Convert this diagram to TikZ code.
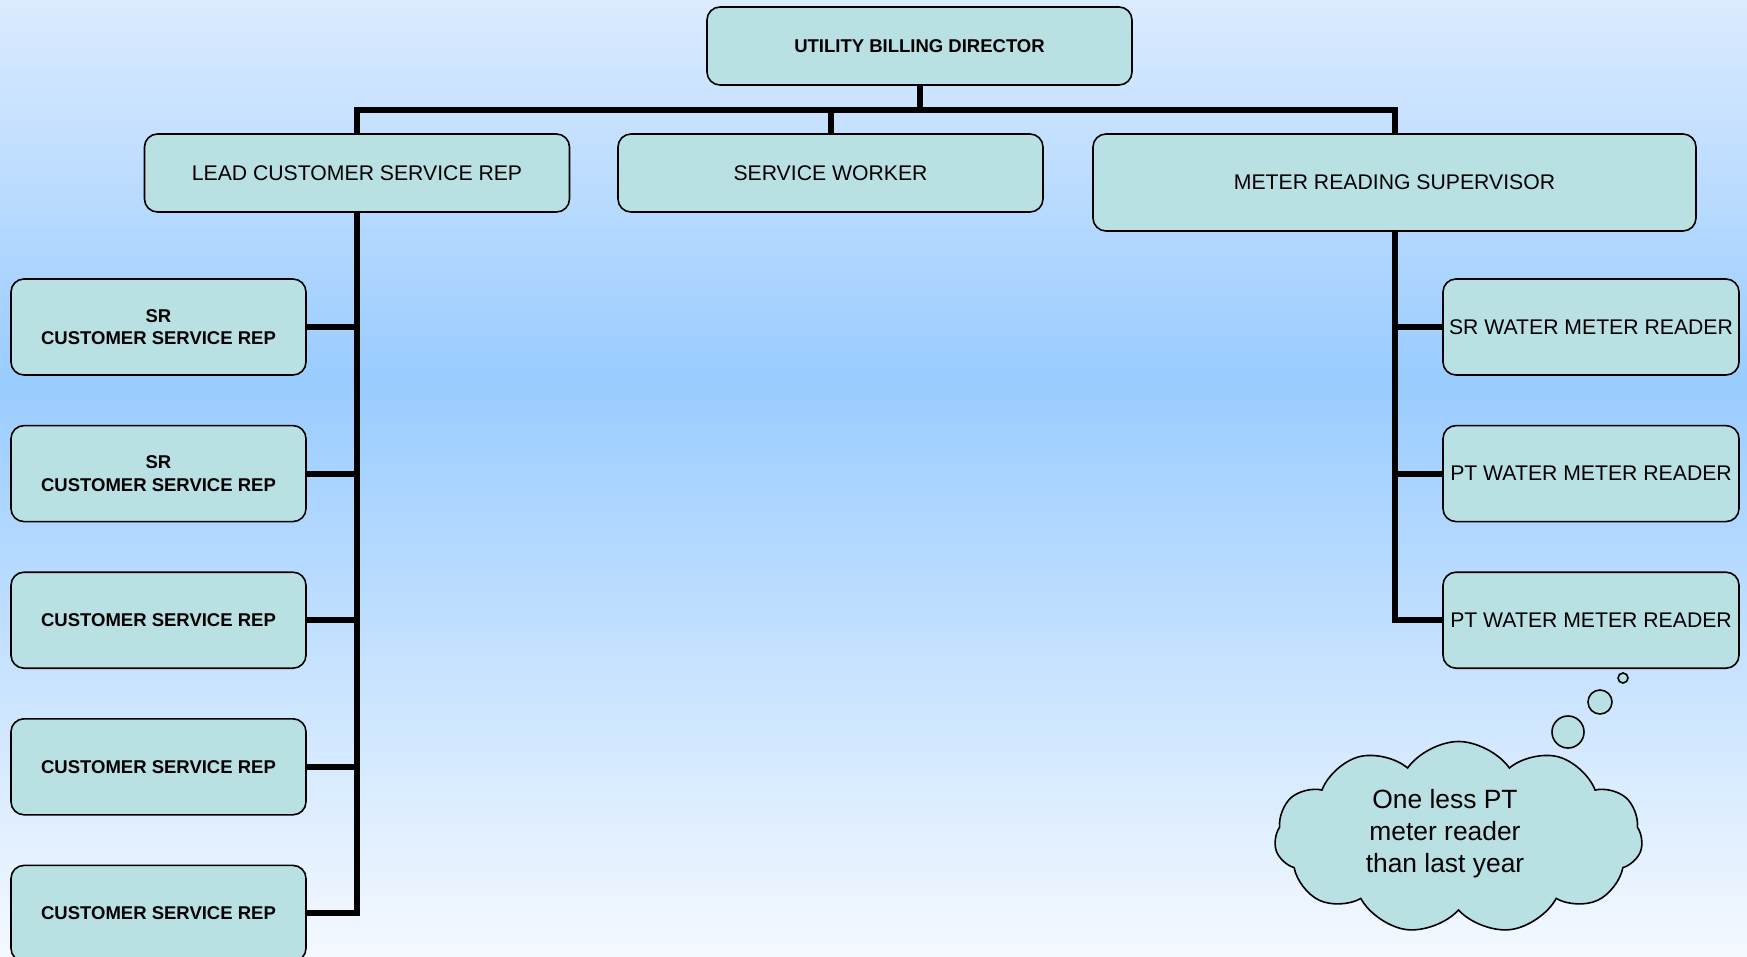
\documentclass[tikz,border=0pt]{standalone}
\usepackage{fontspec}
\setmainfont{Liberation Sans}
\usetikzlibrary{positioning, calc, shapes.symbols}
\definecolor{boxfill}{HTML}{B9E0E3}
\definecolor{bgtop}{HTML}{DCEBFF}
\definecolor{bgmid}{HTML}{99CCFF}
\definecolor{bgbot}{HTML}{F5F9FF}

\begin{document}
\begin{tikzpicture}[
			x=1pt, y=1pt,
			node distance=24.5pt,
			every node/.style={align=center},
			box/.style={rectangle, draw=black, line width=0.8pt, fill=boxfill, rounded corners=6.5pt, inner sep=0pt, font=\fontsize{10.6}{12.7}\selectfont},
			headbox/.style={box, minimum width=212.5pt, minimum height=39pt, font=\fontsize{9.25}{11.3}\selectfont\bfseries},
			midbox/.style={box, minimum width=212.5pt, minimum height=39pt},
			csrbox/.style={box, minimum width=147.5pt, minimum height=48pt, font=\fontsize{9.25}{11.3}\selectfont\bfseries},
			readerbox/.style={box, minimum width=148pt, minimum height=48pt},
			link/.style={line width=3pt},
			bubble/.style={circle, draw=black, line width=0.8pt, fill=boxfill, inner sep=0pt}
			]
			% Background
			\useasboundingbox (0,0) rectangle (873.5,-478.5);
			\shade[top color=bgtop, bottom color=bgmid] (0,0) rectangle (873.5,-190);
			\shade[top color=bgmid, bottom color=bgbot] (0,-190) rectangle (873.5,-478.5);
			
			% Nodes
			\node[headbox] (director) at (459.75,-23) {UTILITY BILLING DIRECTOR};
			\node[midbox] (lead) at (178.5,-86.5) {LEAD CUSTOMER SERVICE REP};
			\node[midbox] (worker) at (415.25,-86.5) {SERVICE WORKER};
			\node[box, minimum width=301.5pt, minimum height=48.5pt] (super) at (697.25,-91.25) {METER READING SUPERVISOR};
			
			\node[csrbox] (csr1) at (79.25,-163.5) {SR\\CUSTOMER SERVICE REP};
			\node[csrbox, below=of csr1] (csr2) {SR\\CUSTOMER SERVICE REP};
			\node[csrbox, below=of csr2] (csr3) {CUSTOMER SERVICE REP};
			\node[csrbox, below=of csr3] (csr4) {CUSTOMER SERVICE REP};
			\node[csrbox, below=of csr4] (csr5) {CUSTOMER SERVICE REP};
			
			\node[readerbox] (reader1) at (795.5,-163.5) {SR WATER METER READER};
			\node[readerbox, below=of reader1] (reader2) {PT WATER METER READER};
			\node[readerbox, below=of reader2] (reader3) {PT WATER METER READER};
			
			% Connectors
			\coordinate (bar) at ($(director.south)+(0,-12)$);
			\draw[link] (director.south) -- (bar);
			\draw[link] (lead.north) |- (bar) -| (super.north);
			\draw[link] (worker.north) -- (worker.north |- bar);
			
			\draw[link] (lead.south) |- (csr5.east);
			\foreach \n in {csr1, csr2, csr3, csr4} {
				\draw[link] (\n.east) -- (\n.east -| lead.south);
			}
			\draw[link] (super.south) |- (reader3.west);
			\foreach \n in {reader1, reader2} {
				\draw[link] (\n.west) -- (\n.west -| super.south);
			}
			
			% Thought cloud
			\node[cloud, draw=black, line width=0.8pt, fill=boxfill, cloud puffs=11, cloud puff arc=110, aspect=1.9, minimum width=184pt, minimum height=96pt, inner sep=0pt] (note) at (729.25,-418.75) {};
			\node[font=\fontsize{13.2}{16}\selectfont] (notetext) at (722.5,-417) {One less PT\\meter reader\\than last year};
			\node[bubble, minimum size=16pt] (bub1) at (784,-366) {};
			\node[bubble, minimum size=12pt] (bub2) at (800,-351) {};
			\node[bubble, minimum size=5pt] (bub3) at (811.5,-339) {};
		\end{tikzpicture}
\end{document}
